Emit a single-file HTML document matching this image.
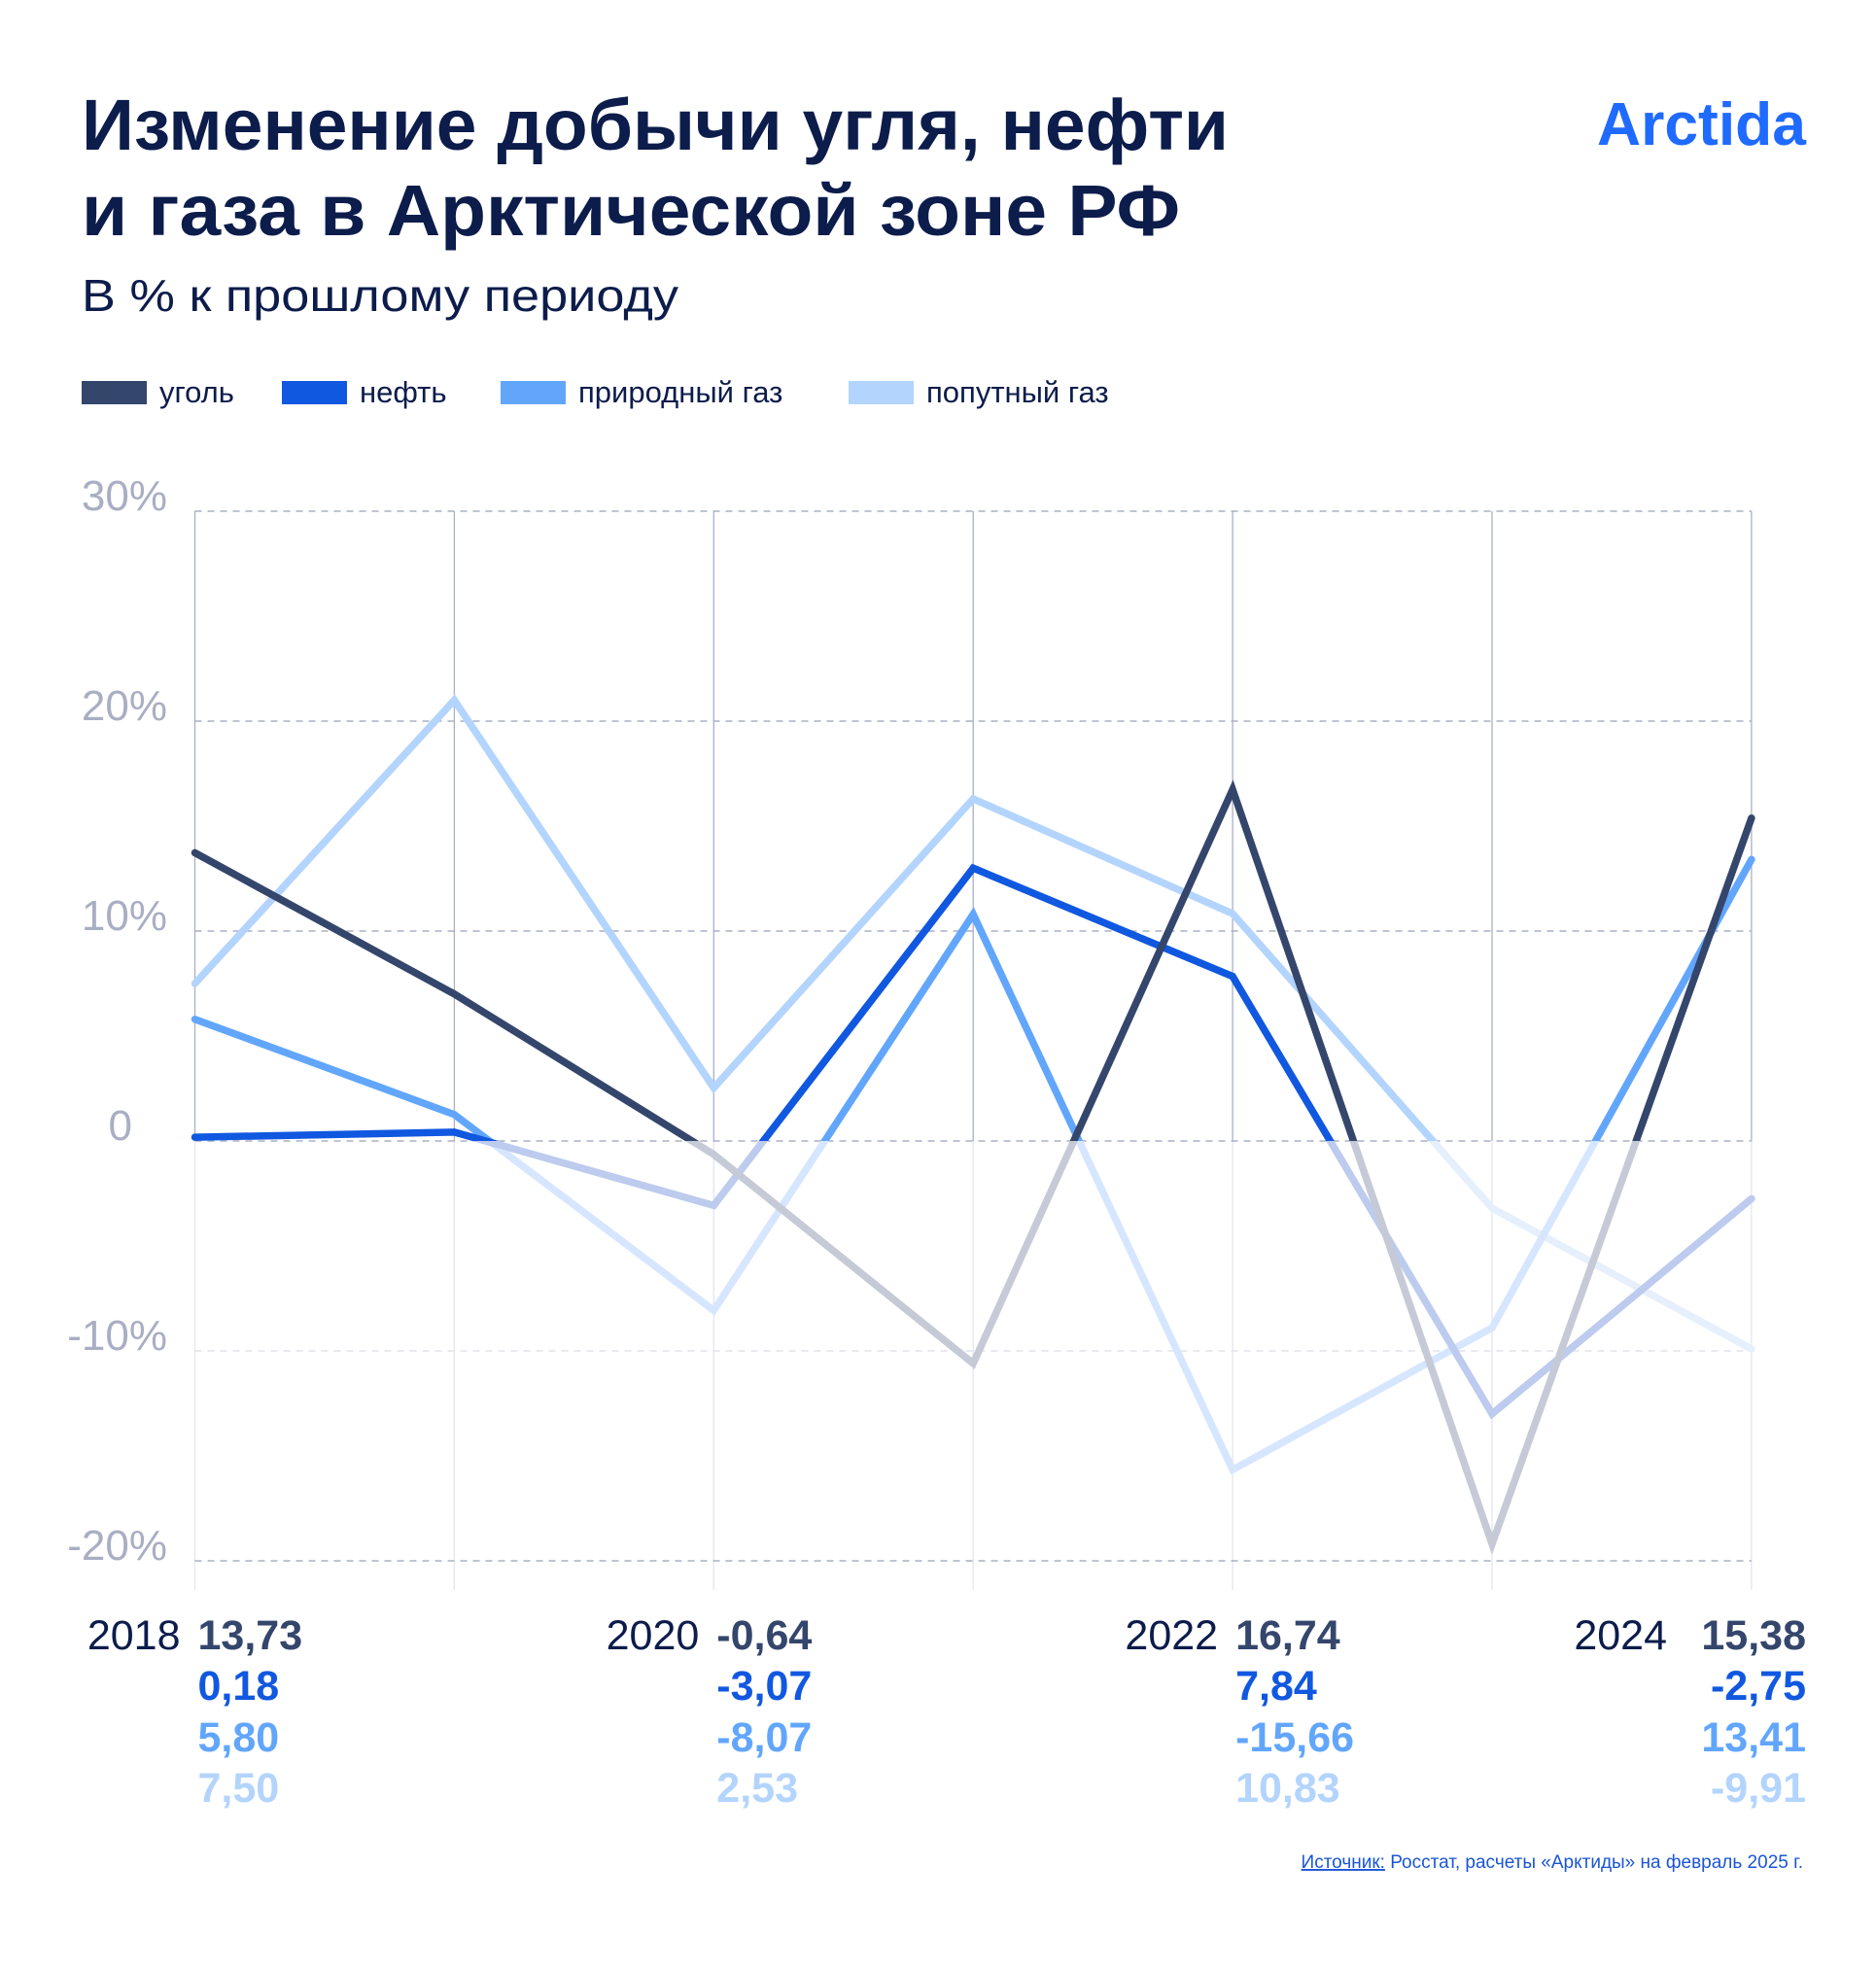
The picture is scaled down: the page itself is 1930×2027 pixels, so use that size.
<!DOCTYPE html>
<html><head><meta charset="utf-8">
<style>
html,body{margin:0;padding:0;background:#fff;}
svg{display:block;font-family:"Liberation Sans","DejaVu Sans",sans-serif;}
</style></head>
<body>
<svg id="chart" width="1930" height="2027" viewBox="0 0 1930 2027" xmlns="http://www.w3.org/2000/svg">
  <rect width="1930" height="2027" fill="#fff"/>
  <text x="84" y="154" font-size="74" font-weight="bold" fill="#0c1c4b" textLength="1180" lengthAdjust="spacingAndGlyphs">Изменение добычи угля, нефти</text>
  <text x="84" y="242" font-size="74" font-weight="bold" fill="#0c1c4b" textLength="1130" lengthAdjust="spacingAndGlyphs">и газа в Арктической зоне РФ</text>
  <text x="84" y="320" font-size="46" fill="#0c1c4b" textLength="614" lengthAdjust="spacingAndGlyphs">В % к прошлому периоду</text>
  <text x="1858" y="149" font-size="62" font-weight="bold" fill="#1f6aff" text-anchor="end" textLength="215" lengthAdjust="spacingAndGlyphs">Arctida</text>
  <g id="legend"></g>
  <g id="grid"></g>
  <g id="series"></g>
  <g id="labels"></g>
  <text x="1855" y="1922" font-size="19" fill="#1a55d6" text-anchor="end"><tspan text-decoration="underline">Источник:</tspan> Росстат, расчеты «Арктиды» на февраль 2025 г.</text>
</svg>
<script>
const years = [2018, 2019, 2020, 2021, 2022, 2023, 2024];
const seriesNames = ["уголь", "нефть", "природный газ", "попутный газ"];
const coal = [13.73, 7.0, -0.64, -10.6, 16.74, -19.2, 15.38];
const oil = [0.18, 0.42, -3.07, 13.0, 7.84, -13.0, -2.75];
const natGas = [5.80, 1.26, -8.07, 10.8, -15.66, -8.9, 13.41];
const assocGas = [7.50, 21.0, 2.53, 16.3, 10.83, -3.2, -9.91];
const yTicks = [30, 20, 10, 0, -10, -20];
const yTickLabels = ["30%", "20%", "10%", "0", "-10%", "-20%"];
const labelYears = [2018, 2020, 2022, 2024];

const NS = "http://www.w3.org/2000/svg";
const X0 = 200.5, XSTEP = 266.9, Y0 = 1174, YUNIT = 21.6;
const xScale = i => X0 + i * XSTEP;
const yScale = v => Y0 - v * YUNIT;
function mk(tag, attrs, parent){ const e = document.createElementNS(NS, tag); for (const k in attrs) e.setAttribute(k, attrs[k]); parent.appendChild(e); return e; }

const colors = ["#34466c", "#1158e0", "#62a6fc", "#b3d4fd"];
const faded = ["#c5cad6", "#bccbee", "#d6e6ff", "#e6effc"];

// legend
const legend = document.getElementById("legend");
const legX = [84, 290, 515, 873];
seriesNames.forEach((n, i) => {
  const sw = mk("rect", {x: legX[i], y: 392, width: 67, height: 24, fill: colors[i]}, legend);
  
  
  const t = mk("text", {x: legX[i] + 80, y: 414, "font-size": 31, fill: "#0c1c4b"}, legend);
  t.textContent = n;
  
  
});

// grid
const grid = document.getElementById("grid");
const xEnd = xScale(years.length - 1);
years.forEach((y, i) => {
  const x = xScale(i);
  const l1 = mk("line", {x1: x, x2: x, y1: yScale(30), y2: Y0, stroke: "#aab0c6", "stroke-width": 1.3}, grid);
  
  
  const l2 = mk("line", {x1: x, x2: x, y1: Y0, y2: yScale(-20) + 30, stroke: "#e3e6ee", "stroke-width": 1.3}, grid);
  
  
});
yTicks.forEach((v, i) => {
  const yy = yScale(v);
  const g = mk("line", {x1: X0, x2: xEnd, y1: yy, y2: yy, stroke: v < 0 && v > -20 ? "#e0e3ea" : "#aab0c6", "stroke-width": 1.5, "stroke-dasharray": "7 6"}, grid);
  
  
  const t = mk("text", {x: v === 0 ? 136 : 172, y: yy - 1, "font-size": 44, fill: "#a9aec3", "text-anchor": "end"}, grid);
  t.textContent = yTickLabels[i];
  
  
});

// series with clip above/below zero
const series = document.getElementById("series");
const defs = mk("defs", {}, series);
const cpA = mk("clipPath", {id: "above"}, defs);
mk("rect", {x: 0, y: 0, width: 1930, height: Y0}, cpA);
const cpB = mk("clipPath", {id: "below"}, defs);
mk("rect", {x: 0, y: Y0, width: 1930, height: 2027}, cpB);
const data = [assocGas, natGas, oil, coal];
const order = [3, 2, 1, 0];
data.forEach((vals, k) => {
  const si = order[k];
  const pts = vals.map((v, i) => xScale(i) + "," + yScale(v)).join(" ");
  const lo = mk("polyline", {points: pts, fill: "none", stroke: faded[si], "stroke-width": 7.5, "stroke-linejoin": "miter", "stroke-linecap": "round", "clip-path": "url(#below)"}, series);
  
  
  const hi = mk("polyline", {points: pts, fill: "none", stroke: colors[si], "stroke-width": 7.5, "stroke-linejoin": "miter", "stroke-linecap": "round", "clip-path": "url(#above)"}, series);
  
  
});

// value labels
const labels = document.getElementById("labels");
const allSeries = [coal, oil, natGas, assocGas];
const rowY = [1697, 1749, 1802, 1854];
const fmt = v => v.toFixed(2).replace(".", ",");
labelYears.forEach(yr => {
  const i = years.indexOf(yr);
  const x = xScale(i);
  const last = i === years.length - 1;
  const yt = mk("text", {x: last ? 1715 : x - 15, y: rowY[0], "font-size": 43, fill: "#0c1c4b", "text-anchor": "end"}, labels);
  yt.textContent = yr;
  
  
  allSeries.forEach((s, k) => {
    const t = mk("text", {x: last ? 1858 : x + 3, y: rowY[k], "font-size": 43, "font-weight": "bold", fill: colors[k], "text-anchor": last ? "end" : "start"}, labels);
    t.textContent = fmt(s[i]);
    
    
  });
});
</script>
</body></html>
